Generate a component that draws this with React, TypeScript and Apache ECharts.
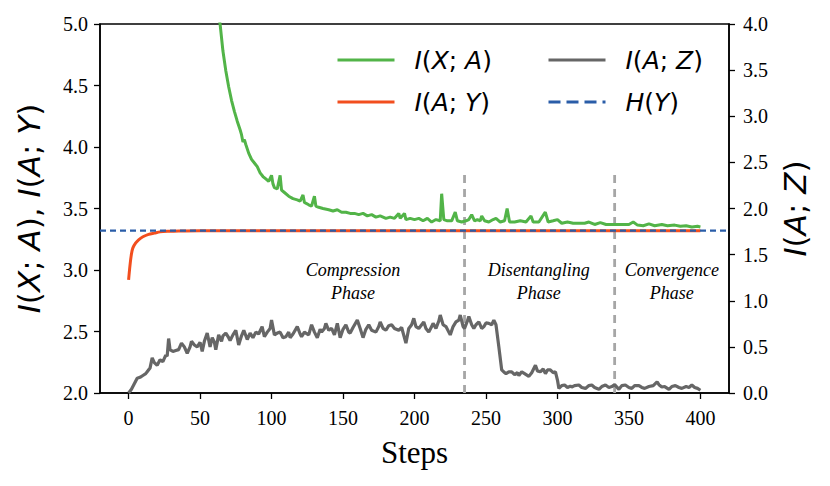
import React, { useEffect, useRef } from "react";
import * as echarts from "echarts";

// ---- data ----
const xTickValues = [0, 50, 100, 150, 200, 250, 300, 350, 400];

const ixaSteps = [55, 60, 64, 66, 68, 70, 72, 74, 76, 78, 79, 80, 81, 82, 84, 86, 88, 90, 92, 94, 96, 98, 100, 101, 102, 104, 106, 107, 109, 112, 115, 118, 120, 122, 123, 126, 128, 130, 131, 133, 136, 140, 143, 146, 149, 152, 155, 158, 161, 164, 167, 170, 173, 176, 180, 183, 186, 189, 190, 193, 194, 197, 200, 203, 206, 209, 212, 215, 218, 219, 220.5, 223, 226, 228.5, 230, 233, 236, 238, 240, 242, 244, 246, 247, 249, 252, 255, 257, 260, 263, 264.8, 266.5, 270, 274, 278, 281.5, 283, 287, 291.5, 293.5, 297, 300, 303, 307, 311, 315, 319, 322, 326, 330, 334, 338, 342, 346, 350, 353, 356, 360, 364, 368, 373, 377, 382, 386, 390, 394, 398, 400];
const ixaValues = [5.75, 5.3, 5.0, 4.78, 4.62, 4.49, 4.38, 4.29, 4.21, 4.14, 4.1, 4.04, 4.06, 4.02, 3.95, 3.9, 3.87, 3.84, 3.79, 3.76, 3.74, 3.72, 3.77, 3.7, 3.67, 3.66, 3.77, 3.65, 3.63, 3.6, 3.58, 3.57, 3.56, 3.61, 3.55, 3.53, 3.52, 3.6, 3.52, 3.51, 3.5, 3.49, 3.48, 3.49, 3.47, 3.47, 3.46, 3.46, 3.45, 3.46, 3.44, 3.45, 3.43, 3.44, 3.42, 3.43, 3.42, 3.46, 3.42, 3.46, 3.41, 3.42, 3.41, 3.42, 3.4, 3.42, 3.39, 3.41, 3.4, 3.62, 3.41, 3.4, 3.4, 3.47, 3.4, 3.39, 3.4, 3.41, 3.45, 3.4, 3.41, 3.4, 3.44, 3.4, 3.39, 3.41, 3.42, 3.39, 3.4, 3.5, 3.39, 3.39, 3.4, 3.39, 3.44, 3.39, 3.39, 3.47, 3.39, 3.4, 3.41, 3.38, 3.39, 3.38, 3.38, 3.38, 3.39, 3.37, 3.385, 3.37, 3.37, 3.37, 3.37, 3.37, 3.39, 3.365, 3.36, 3.375, 3.36, 3.37, 3.36, 3.365, 3.355, 3.36, 3.35, 3.355, 3.35];

const iaySteps = [0, 1, 2, 3, 5, 7, 10, 14, 18, 22, 28, 35, 50, 100, 200, 300, 400];
const iayValues = [2.92, 3.04, 3.13, 3.18, 3.22, 3.245, 3.27, 3.29, 3.3, 3.31, 3.315, 3.318, 3.32, 3.32, 3.32, 3.32, 3.32];

const iazSteps = [0, 2, 4, 6, 8, 10, 12, 13, 15, 16.5, 18, 20, 22, 24, 26, 27, 28, 29, 31, 33, 35, 37, 39, 41, 43, 44, 46, 48, 50, 51.5, 53, 55, 57, 58.5, 60, 61, 63, 65, 66, 68, 70, 71, 73, 75, 77, 79, 80.6, 83, 85, 87, 89, 91, 93.4, 95, 97, 99, 100, 102, 104, 106, 108, 110, 112, 113, 115, 118, 120, 121, 123, 124, 126, 128, 130, 132, 134, 135, 137, 138, 140, 142, 144, 146, 148, 150, 152, 154, 155, 157, 160, 162, 164, 166, 168, 170, 173, 175, 176, 178, 180, 182, 184, 186, 189, 191, 194, 196, 198, 199.5, 201, 203, 205, 206.5, 208, 210, 212, 213, 215, 217, 218, 220, 222, 224, 225, 227, 229, 231, 232, 234, 235, 237, 238, 240, 241.5, 243, 245, 247, 248.6, 250, 252, 254, 255.5, 257, 259, 261, 263, 264, 266, 268, 270, 272, 273, 275, 277, 280, 282, 284.6, 286, 288, 290, 291.6, 293, 295, 297, 298.6, 300, 301, 303, 305, 307, 309, 310, 312, 315, 317, 319.6, 322, 324, 326, 329, 331, 333.6, 336, 338, 340, 343, 345, 347.5, 350, 352, 354, 357, 359, 361, 364, 367, 369.7, 371, 373, 375, 378, 380, 382.5, 385, 387, 390, 392, 394, 396, 398, 400];
const iazValues = [0.0, 0.04, 0.1, 0.16, 0.17, 0.19, 0.21, 0.23, 0.27, 0.38, 0.33, 0.3, 0.36, 0.34, 0.41, 0.4, 0.59, 0.47, 0.45, 0.46, 0.47, 0.54, 0.5, 0.43, 0.5, 0.56, 0.52, 0.5, 0.55, 0.45, 0.56, 0.65, 0.5, 0.6, 0.55, 0.47, 0.63, 0.56, 0.62, 0.65, 0.6, 0.57, 0.63, 0.68, 0.52, 0.62, 0.68, 0.58, 0.65, 0.6, 0.66, 0.64, 0.72, 0.61, 0.66, 0.7, 0.79, 0.63, 0.65, 0.66, 0.6, 0.61, 0.66, 0.6, 0.64, 0.72, 0.64, 0.61, 0.66, 0.65, 0.63, 0.74, 0.66, 0.6, 0.69, 0.66, 0.7, 0.755, 0.68, 0.7, 0.63, 0.755, 0.6, 0.69, 0.74, 0.66, 0.65, 0.71, 0.79, 0.7, 0.6, 0.69, 0.74, 0.68, 0.66, 0.72, 0.77, 0.7, 0.68, 0.73, 0.74, 0.7, 0.68, 0.71, 0.54, 0.7, 0.74, 0.81, 0.72, 0.7, 0.74, 0.77, 0.7, 0.66, 0.72, 0.755, 0.7, 0.78, 0.845, 0.74, 0.72, 0.66, 0.63, 0.72, 0.77, 0.79, 0.845, 0.72, 0.7, 0.78, 0.83, 0.74, 0.7, 0.74, 0.77, 0.7, 0.72, 0.76, 0.755, 0.74, 0.79, 0.74, 0.5, 0.25, 0.22, 0.21, 0.23, 0.23, 0.2, 0.22, 0.19, 0.23, 0.21, 0.18, 0.22, 0.3, 0.24, 0.23, 0.26, 0.21, 0.25, 0.25, 0.22, 0.23, 0.14, 0.05, 0.08, 0.087, 0.06, 0.075, 0.065, 0.08, 0.087, 0.06, 0.05, 0.08, 0.087, 0.06, 0.04, 0.07, 0.087, 0.06, 0.07, 0.09, 0.04, 0.08, 0.087, 0.06, 0.05, 0.08, 0.08, 0.06, 0.05, 0.07, 0.08, 0.12, 0.09, 0.065, 0.07, 0.04, 0.07, 0.08, 0.06, 0.05, 0.07, 0.06, 0.087, 0.06, 0.05, 0.03];

const hyValue = 3.32;
const hySpan = [-20, 420];
const phaseBoundaries = [235, 340];
const phaseLineRange = [2.0, 3.8];
const phaseLabels = ["Compression\nPhase", "Disentangling\nPhase", "Convergence\nPhase"];
const phaseLabelSteps = [157, 287, 380];
const phaseLabelValue = 2.905;

const zip = (xs: number[], ys: number[]) => xs.map((x, i) => [x, ys[i]]);

const COLORS: Record<string, string> = {
  "I(X;A)": "#52b448",
  "I(A;Y)": "#f24e1e",
  "I(A;Z)": "#666666",
  "H(Y)": "#2a5da8",
};

const legendRich: Record<string, string> = {
  "I(X;A)": "{i|I}{n|(}{i|X}{n|; }{i|A}{n|)}",
  "I(A;Y)": "{i|I}{n|(}{i|A}{n|; }{i|Y}{n|)}",
  "I(A;Z)": "{i|I}{n|(}{i|A}{n|; }{i|Z}{n|)}",
  "H(Y)": "{i|H}{n|(}{i|Y}{n|)}",
};

const mathRich = (size: number) => ({
  i: { fontFamily: "DejaVu Sans", fontStyle: "italic", fontSize: size, color: "#000" },
  n: { fontFamily: "DejaVu Sans", fontSize: size, color: "#000" },
});

const SERIF = "Liberation Serif";
const tickRich = { t: { fontFamily: SERIF, fontSize: 20, color: "#000" } };

export default function App() {
  const ref = useRef<HTMLDivElement>(null);
  useEffect(() => {
    if (!ref.current) return;
    const chart = echarts.init(ref.current, undefined, { renderer: "svg" });
    const legendItem = (name: string) => ({
      name,
      itemStyle: { color: "transparent", borderColor: "transparent", opacity: 0 },
      lineStyle: { color: COLORS[name], width: 3, type: name === "H(Y)" ? [12, 6] : "solid", opacity: 1 },
    });
    const legendBase = {
      orient: "vertical" as const,
      padding: 0,
      itemGap: 12,
      itemWidth: 57,
      itemHeight: 14,
      formatter: (name: string) => legendRich[name],
      itemStyle: { color: "transparent", borderColor: "transparent", opacity: 0 },
      textStyle: { lineHeight: 30, padding: [0, 0, 0, 15], rich: mathRich(25) },
    };
    const option: any = {
      animation: false,
      backgroundColor: "#fff",
      textStyle: { fontFamily: SERIF },
      grid: { left: 100, top: 24, width: 629, height: 369, show: true, borderColor: "#000", borderWidth: 1.5, backgroundColor: "transparent" },
      legend: [
        { ...legendBase, left: 336, top: 45, data: ["I(X;A)", "I(A;Y)"].map(legendItem) },
        { ...legendBase, left: 547, top: 45, data: ["I(A;Z)", "H(Y)"].map(legendItem) },
      ],
      xAxis: {
        type: "value",
        min: hySpan[0],
        max: hySpan[1],
        splitLine: { show: false },
        axisLine: { onZero: false, lineStyle: { color: "#000", width: 1.5 } },
        axisTick: { show: true, customValues: xTickValues, length: 6, lineStyle: { color: "#000", width: 1.3 } },
        axisLabel: {
          customValues: xTickValues, margin: 15, fontFamily: SERIF, fontSize: 20, color: "#000",
          formatter: (v: number) => "{t|" + v + "}", rich: tickRich,
        },
        name: "Steps",
        nameLocation: "middle",
        nameGap: 44,
        nameTextStyle: { fontFamily: SERIF, fontSize: 31, color: "#000" },
      },
      yAxis: [
        {
          type: "value",
          min: 2,
          max: 5,
          interval: 0.5,
          position: "left",
          splitLine: { show: false },
          axisLine: { show: true, onZero: false, lineStyle: { color: "#000", width: 1.5 } },
          axisTick: { show: true, length: 6, lineStyle: { color: "#000", width: 1.3 } },
          axisLabel: {
            margin: 12, fontFamily: SERIF, fontSize: 20, color: "#000",
            formatter: (v: number) => "{t|" + v.toFixed(1) + "}", rich: tickRich,
          },
          name: "{i|I}{n|(}{i|X}{n|; }{i|A}{n|), }{i|I}{n|(}{i|A}{n|; }{i|Y}{n|)}",
          nameLocation: "middle",
          nameRotate: 90,
          nameGap: 56,
          nameTextStyle: { rich: mathRich(31) },
        },
        {
          type: "value",
          min: 0,
          max: 4,
          interval: 0.5,
          position: "right",
          splitLine: { show: false },
          axisLine: { show: true, onZero: false, lineStyle: { color: "#000", width: 1.5 } },
          axisTick: { show: true, length: 6, lineStyle: { color: "#000", width: 1.3 } },
          axisLabel: {
            margin: 14, fontFamily: SERIF, fontSize: 20, color: "#000",
            formatter: (v: number) => "{t|" + v.toFixed(1) + "}", rich: tickRich,
          },
          name: "{i|I}{n|(}{i|A}{n|; }{i|Z}{n|)}",
          nameLocation: "middle",
          nameRotate: 90,
          nameGap: 50,
          nameTextStyle: { rich: mathRich(31) },
        },
      ],
      series: [
        {
          name: "I(X;A)", type: "line", yAxisIndex: 0, symbol: "none", z: 4,
          data: zip(ixaSteps, ixaValues),
          itemStyle: { color: COLORS["I(X;A)"] },
          lineStyle: { color: COLORS["I(X;A)"], width: 3 },
        },
        {
          name: "I(A;Y)", type: "line", yAxisIndex: 0, symbol: "none", z: 3,
          data: zip(iaySteps, iayValues), smooth: 0.3,
          itemStyle: { color: COLORS["I(A;Y)"] },
          lineStyle: { color: COLORS["I(A;Y)"], width: 3 },
        },
        {
          name: "I(A;Z)", type: "line", yAxisIndex: 1, symbol: "none", z: 3,
          data: zip(iazSteps, iazValues),
          itemStyle: { color: COLORS["I(A;Z)"] },
          lineStyle: { color: COLORS["I(A;Z)"], width: 3.2 },
        },
        {
          name: "H(Y)", type: "line", yAxisIndex: 0, symbol: "none", z: 5,
          data: hySpan.map((x) => [x, hyValue]),
          itemStyle: { color: COLORS["H(Y)"] },
          lineStyle: { color: COLORS["H(Y)"], width: 2.2, type: [6, 4] },
        },
        ...phaseBoundaries.map((b, k) => ({
          name: "phase" + k, type: "line", yAxisIndex: 0, symbol: "none", z: 2,
          data: phaseLineRange.map((v) => [b, v]),
          lineStyle: { color: "#a6a6a6", width: 2.8, type: [8, 6] },
          itemStyle: { color: "#a6a6a6" },
        })),
      ],
    };
    chart.setOption(option);
    const graphics = phaseLabels.map((t, k) => {
      const p = chart.convertToPixel({ gridIndex: 0 }, [phaseLabelSteps[k], phaseLabelValue]) as number[];
      return {
        type: "text",
        x: p[0],
        y: p[1],
        style: {
          text: t,
          fontFamily: SERIF,
          fontStyle: "italic",
          fontSize: 18,
          lineHeight: 23,
          fill: "#000",
          align: "center",
          verticalAlign: "middle",
        },
      };
    });
    chart.setOption({ graphic: graphics });
    return () => chart.dispose();
  }, []);
  return <div ref={ref} style={{ position: "absolute", left: 0, top: 0, width: 830, height: 486 }} />;
}
